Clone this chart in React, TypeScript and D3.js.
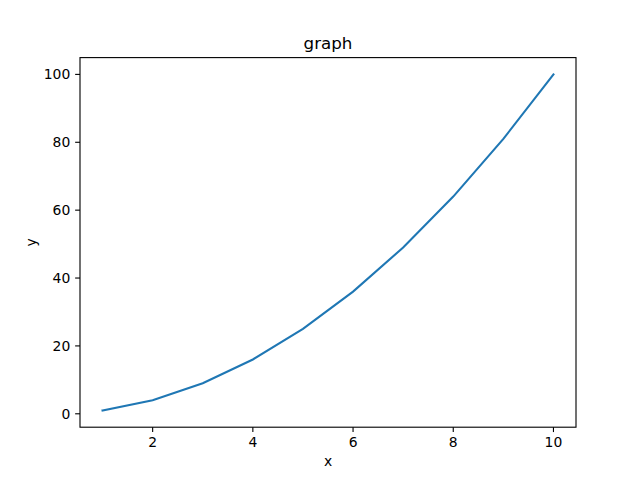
import React from 'react';
import * as d3 from 'd3';

const xValues = [1, 2, 3, 4, 5, 6, 7, 8, 9, 10];
const yValues = [1, 4, 9, 16, 25, 36, 49, 64, 81, 100];
const xTicks = [2, 4, 6, 8, 10];
const yTicks = [0, 20, 40, 60, 80, 100];

const W = 640;
const H = 480;
const margin = { left: 80, right: 64, top: 57.6, bottom: 52.8 };
const font = '"DejaVu Sans", sans-serif';

const App: React.FC = () => {
  const x0 = margin.left;
  const x1 = W - margin.right;
  const y0 = H - margin.bottom;
  const y1 = margin.top;

  const xPad = (d3.max(xValues)! - d3.min(xValues)!) * 0.05;
  const yPad = (d3.max(yValues)! - d3.min(yValues)!) * 0.05;
  const x = d3.scaleLinear().domain([d3.min(xValues)! - xPad, d3.max(xValues)! + xPad]).range([x0, x1]);
  const y = d3.scaleLinear().domain([d3.min(yValues)! - yPad, d3.max(yValues)! + yPad]).range([y0, y1]);

  const pts = xValues.map((v, i) => [v, yValues[i]] as [number, number]);
  const line = d3.line<[number, number]>().x(d => x(d[0])).y(d => y(d[1]));

  const tick = 4.86;

  return (
    <svg width={W} height={H} style={{ position: 'absolute', left: 0, top: 0, background: '#fff' }} fontFamily={font}>
      <rect x={0} y={0} width={W} height={H} fill="#fff" />
      <path d={line(pts) ?? ''} fill="none" stroke="#1f77b4" strokeWidth={2.08} strokeLinecap="square" />
      <rect x={x0} y={y1} width={x1 - x0} height={y0 - y1} fill="none" stroke="#000" strokeWidth={1.11} />

      {xTicks.map(t => (
        <g key={`x${t}`}>
          <line x1={x(t)} x2={x(t)} y1={y0} y2={y0 + tick} stroke="#000" strokeWidth={1.11} />
          <text x={x(t)} y={y0 + tick + 4.86 + 10.5} textAnchor="middle" fontSize={13.9} fill="#000">{t}</text>
        </g>
      ))}
      {yTicks.map(t => (
        <g key={`y${t}`}>
          <line x1={x0 - tick} x2={x0} y1={y(t)} y2={y(t)} stroke="#000" strokeWidth={1.11} />
          <text x={x0 - tick - 4.86} y={y(t)} dy="0.36em" textAnchor="end" fontSize={13.9} fill="#000">{t}</text>
        </g>
      ))}

      <text x={(x0 + x1) / 2} y={49} textAnchor="middle" fontSize={16.7} fill="#000">graph</text>
      <text x={(x0 + x1) / 2} y={466} textAnchor="middle" fontSize={13.9} fill="#000">x</text>
      <text transform={`translate(36,${(y0 + y1) / 2}) rotate(-90)`} textAnchor="middle" fontSize={13.9} fill="#000">y</text>
    </svg>
  );
};

export default App;
